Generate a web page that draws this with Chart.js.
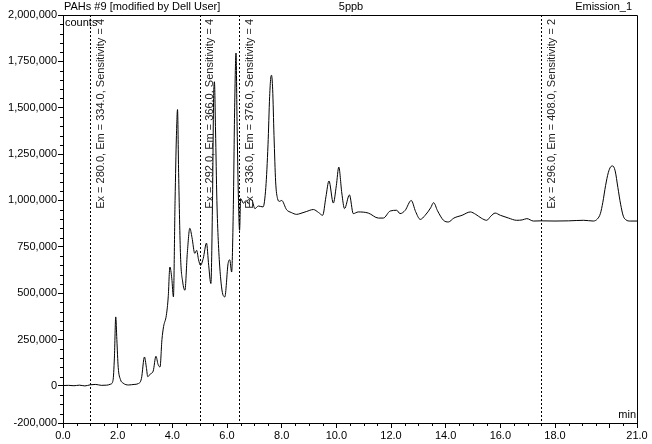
<!DOCTYPE html>
<html><head><meta charset="utf-8">
<script src="https://cdn.jsdelivr.net/npm/chart.js@4"></script>
<style>html,body{margin:0;padding:0;background:#fff;}canvas{display:block;}</style>
</head><body>
<canvas id="c" width="652" height="444"></canvas>
<script>
// ---- data (minutes, counts) ----
const times = [0.0,0.2,0.4,0.6,0.8,1.0,1.2,1.4,1.6,1.75,1.83,1.88,1.93,1.97,2.02,2.1,2.2,2.4,2.6,2.75,
  2.87,2.98,3.05,3.1,3.2,3.3,3.4,3.48,3.55,3.62,3.68,3.78,3.85,3.91,3.98,4.04,4.1,4.15,4.19,4.23,
  4.3,4.38,4.46,4.55,4.64,4.72,4.82,4.89,4.96,5.03,5.13,5.25,5.33,5.41,5.47,5.51,5.54,5.58,5.63,5.68,
  5.8,5.92,6.04,6.1,6.17,6.23,6.28,6.33,6.37,6.42,6.46,6.5,6.6,6.7,6.78,6.85,6.92,7.02,7.15,7.32,
  7.42,7.5,7.56,7.6,7.63,7.67,7.72,7.78,7.85,7.92,8.0,8.18,8.35,8.55,8.67,8.9,9.16,9.35,9.5,9.62,
  9.73,9.89,10.0,10.09,10.2,10.3,10.48,10.62,10.8,11.17,11.54,11.72,11.97,12.21,12.33,12.52,12.74,12.9,13.07,13.25,
  13.45,13.56,13.7,13.92,14.1,14.3,14.6,14.9,15.1,15.3,15.5,15.65,15.81,16.0,16.3,16.6,16.8,16.97,17.21,17.5,
  18.0,18.5,19.05,19.4,19.55,19.66,19.75,19.85,19.95,20.03,20.11,20.2,20.3,20.4,20.5,20.6,20.75,21.0];
const counts = [2000,3000,1000,4000,0,6000,8000,3000,4000,10000,30000,150000,372000,250000,100000,35000,15000,5000,8000,12000,
  40000,156000,100000,50000,65000,80000,160000,115000,102000,250000,320000,380000,480000,641000,580000,480000,1000000,1350000,1490000,1150000,
  700000,560000,516000,720000,850000,800000,715000,731000,680000,650000,687000,770000,650000,552000,1000000,1550000,1640000,1380000,1000000,785000,
  534000,480000,660000,680000,614000,950000,1500000,1795000,1400000,1000000,839000,1010000,985000,1000000,983000,1005000,1000000,956000,970000,965000,
  1070000,1300000,1560000,1660000,1675000,1600000,1350000,1100000,1010000,995000,1000000,950000,935000,925000,929000,940000,951000,935000,920000,1020000,
  1105000,986000,1080000,1180000,1040000,956000,1030000,929000,938000,932000,905000,905000,943000,947000,929000,947000,1000000,940000,898000,920000,
  960000,988000,945000,893000,884000,905000,920000,938000,925000,905000,893000,915000,932000,920000,905000,893000,895000,902000,889000,890000,
  889000,890000,893000,889000,900000,929000,990000,1080000,1150000,1180000,1186000,1160000,1070000,980000,915000,895000,889000,889000];

const xTickValues = [0,2,4,6,8,10,12,14,16,18,20,21];
const xTickLabels = ['0.0','2.0','4.0','6.0','8.0','10.0','12.0','14.0','16.0','18.0','','21.0'];
const yTickValues = [-200000,0,250000,500000,750000,1000000,1250000,1500000,1750000,2000000];
const yTickLabels = ['-200,000','0','250,000','500,000','750,000','1,000,000','1,250,000','1,500,000','1,750,000','2,000,000'];
const xMinorStep = 0.5;
const yMinorStep = 50000;

const markerTimes = [1.0, 5.0, 6.45, 17.5];
const markerLabels = [
  'Ex = 280.0, Em = 334.0, Sensitivity = 4',
  'Ex = 292.0, Em = 366.0, Sensitivity = 4',
  'Ex = 336.0, Em = 376.0, Sensitivity = 4',
  'Ex = 296.0, Em = 408.0, Sensitivity = 2'
];
const titleLeft = 'PAHs #9 [modified by Dell User]';
const titleCenter = '5ppb';
const titleRight = 'Emission_1';
const yUnit = 'counts';
const xUnit = 'min';

const FONT = '"Liberation Sans", Arial, sans-serif';

const decor = {
  id: 'decor',
  afterDraw(chart) {
    const ctx = chart.ctx, a = chart.chartArea;
    const xs = chart.scales.x, ys = chart.scales.y;
    ctx.save();
    ctx.strokeStyle = '#000';
    ctx.lineWidth = 1;
    // frame top + right
    ctx.beginPath();
    ctx.moveTo(a.left, a.top + 0.5); ctx.lineTo(a.right + 0.5, a.top + 0.5);
    ctx.lineTo(a.right + 0.5, a.bottom);
    ctx.stroke();
    // minor ticks
    ctx.beginPath();
    for (let v = ys.min + yMinorStep; v < ys.max; v += yMinorStep) {
      if (yTickValues.includes(v)) continue;
      const py = Math.round(ys.getPixelForValue(v)) + 0.5;
      ctx.moveTo(a.left - 3, py); ctx.lineTo(a.left, py);
    }
    for (let v = xs.min + xMinorStep; v < xs.max; v += xMinorStep) {
      if (xTickValues.includes(v)) continue;
      const px = Math.round(xs.getPixelForValue(v)) + 0.5;
      ctx.moveTo(px, a.bottom); ctx.lineTo(px, a.bottom + 3);
    }
    ctx.stroke();
    // marker lines
    ctx.setLineDash([2, 2]);
    ctx.beginPath();
    markerTimes.forEach(t => {
      const px = Math.round(xs.getPixelForValue(t)) + 0.5;
      ctx.moveTo(px, a.top); ctx.lineTo(px, a.bottom);
    });
    ctx.stroke();
    ctx.setLineDash([]);
    // marker labels
    ctx.fillStyle = '#222';
    ctx.font = '11px ' + FONT;
    markerTimes.forEach((t, i) => {
      const px = xs.getPixelForValue(t) + 10.5;
      ctx.save();
      ctx.translate(px, a.top + 4);
      ctx.rotate(-Math.PI / 2);
      ctx.textAlign = 'right';
      ctx.textBaseline = 'middle';
      ctx.fillText(markerLabels[i], 0, 0);
      ctx.restore();
    });
    // titles
    ctx.fillStyle = '#000';
    ctx.textBaseline = 'middle';
    ctx.textAlign = 'left';
    ctx.fillText(titleLeft, a.left + 1, a.top - 8);
    ctx.textAlign = 'center';
    ctx.fillText(titleCenter, (a.left + a.right) / 2 + 1, a.top - 8);
    ctx.textAlign = 'right';
    ctx.fillText(titleRight, a.right - 5, a.top - 8);
    ctx.textAlign = 'left';
    ctx.fillText(yUnit, a.left + 2, a.top + 8);
    ctx.textAlign = 'right';
    ctx.fillText(xUnit, a.right - 1, a.bottom - 8);
    ctx.restore();
  }
};

new Chart(document.getElementById('c'), {
  type: 'line',
  data: {
    datasets: [{
      data: times.map((t, i) => ({x: t, y: counts[i]})),
      borderColor: '#000',
      borderWidth: 1,
      pointRadius: 0,
      cubicInterpolationMode: 'monotone',
      fill: false
    }]
  },
  options: {
    responsive: false,
    animation: false,
    devicePixelRatio: 1,
    layout: {padding: {top: 15, right: 15, left: 0, bottom: 0}},
    plugins: {legend: {display: false}, tooltip: {enabled: false}},
    scales: {
      x: {
        type: 'linear', min: 0, max: 21,
        afterBuildTicks: s => { s.ticks = xTickValues.map(v => ({value: v})); },
        afterFit: s => { s.height = 21; },
        ticks: {
          autoSkip: false, maxRotation: 0, padding: 1, color: '#000',
          font: {family: FONT, size: 11},
          callback: (v, i) => xTickLabels[i]
        },
        grid: {drawOnChartArea: false, tickLength: 5, tickColor: '#000'},
        border: {color: '#000'}
      },
      y: {
        type: 'linear', min: -200000, max: 2000000,
        afterBuildTicks: s => { s.ticks = yTickValues.map(v => ({value: v})); },
        afterFit: s => { s.width = 63; },
        ticks: {
          autoSkip: false, padding: 1, color: '#000',
          font: {family: FONT, size: 11},
          callback: (v, i) => yTickLabels[i]
        },
        grid: {drawOnChartArea: false, tickLength: 5, tickColor: '#000'},
        border: {color: '#000'}
      }
    }
  },
  plugins: [decor]
});
</script>
</body></html>
